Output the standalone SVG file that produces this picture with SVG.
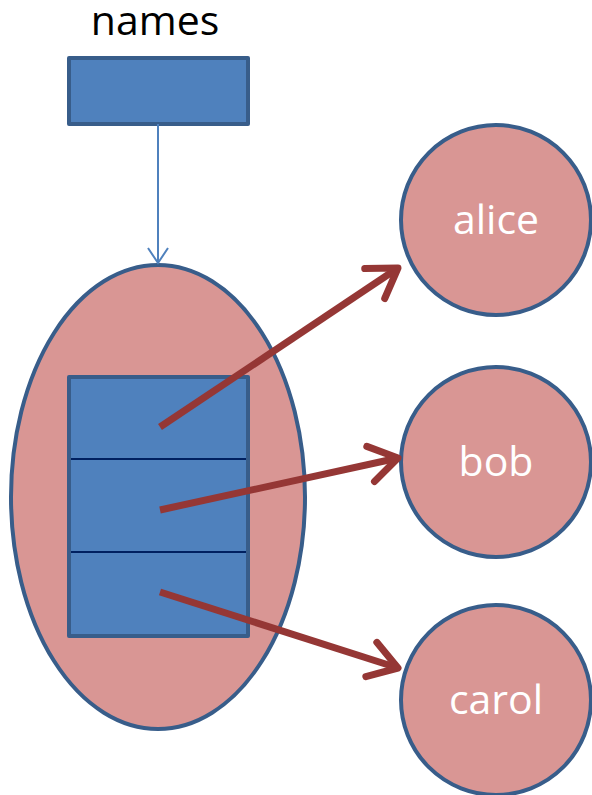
<svg xmlns="http://www.w3.org/2000/svg" width="592" height="795" viewBox="0 0 592 795">
<style>
.box{fill:#4f81bd;stroke:#385d8a;stroke-width:4;stroke-linejoin:round}
.blob{fill:#d99694;stroke:#385d8a;stroke-width:4}
.div{stroke:#002060;stroke-width:2}
.red{stroke:#953735;stroke-width:7;fill:none;stroke-linecap:butt}
.lbl{font-family:"Open Sans","Liberation Sans",sans-serif;font-size:41px;text-anchor:middle}
.wlbl{fill:#ffffff}
</style>
<defs>
<marker id="redhead" markerUnits="userSpaceOnUse" markerWidth="60" markerHeight="60" viewBox="-40 -30 50 60" refX="0" refY="0" orient="auto" overflow="visible">
<path d="M-28,-18 L0,0 L-28,18" fill="none" stroke="#953735" stroke-width="7" stroke-linecap="round" stroke-linejoin="round"/>
</marker>
<marker id="bluehead" markerUnits="userSpaceOnUse" markerWidth="30" markerHeight="30" viewBox="-20 -15 25 30" refX="0" refY="0" orient="auto" overflow="visible">
<path d="M-15,-10 L0,0 L-15,10" fill="none" stroke="#4f81bd" stroke-width="2"/>
</marker>
</defs>
<g id="names">
<text class="lbl" x="155" y="35">names</text>
<rect class="box" x="69" y="58" width="179" height="66"/>
</g>
<g id="list">
<ellipse class="blob" cx="158" cy="497" rx="147" ry="232"/>
<rect class="box" x="69" y="377" width="179" height="259"/>
<line class="div" x1="71" y1="459" x2="246" y2="459"/>
<line class="div" x1="71" y1="552" x2="246" y2="552"/>
</g>
<g id="alice">
<circle class="blob" cx="496" cy="220" r="95"/>
<text class="lbl wlbl" x="496" y="234">alice</text>
</g>
<g id="bob">
<circle class="blob" cx="496" cy="462" r="95"/>
<text class="lbl wlbl" x="496" y="476">bob</text>
</g>
<g id="carol">
<circle class="blob" cx="496" cy="700" r="95"/>
<text class="lbl wlbl" x="496" y="714">carol</text>
</g>
<g id="connectors">
<line x1="158" y1="124" x2="158" y2="263" stroke="#4f81bd" stroke-width="2" marker-end="url(#bluehead)"/>
<line class="red" x1="160" y1="427" x2="398" y2="268" marker-end="url(#redhead)"/>
<line class="red" x1="160" y1="510" x2="398" y2="458" marker-end="url(#redhead)"/>
<line class="red" x1="160" y1="592" x2="398" y2="668" marker-end="url(#redhead)"/>
</g>
</svg>
